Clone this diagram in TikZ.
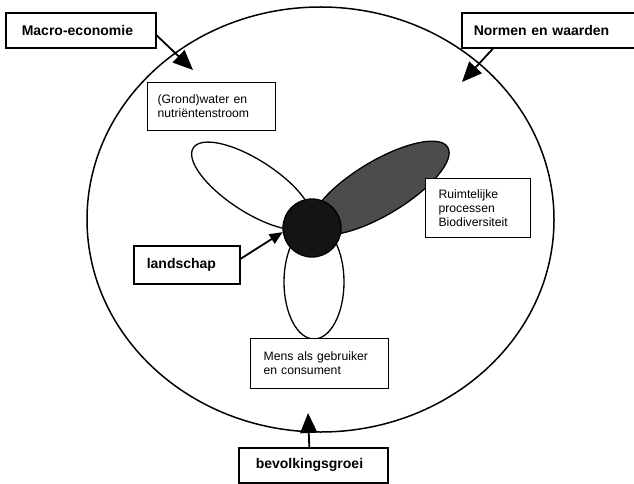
\documentclass[tikz,border=0pt]{standalone}
\usepackage{fontspec}
\setmainfont{Liberation Sans}
\usetikzlibrary{arrows.meta}

\tikzset{
  kader/.style={draw, fill=white, anchor=north west, align=left, inner ysep=0pt,
    execute at begin node={\hyphenpenalty=10000\exhyphenpenalty=10000}},
  vet/.style={kader, line width=1.6pt, font=\bfseries\fontsize{14}{16}\selectfont},
  gewoon/.style={kader, line width=1.2pt, font=\fontsize{12.2}{14}\selectfont},
  pijl/.style={line width=1.8pt, -{Triangle[length=20pt, width=17pt]}},
}

\begin{document}
\begin{tikzpicture}[x=1pt, y=-1pt]
  \useasboundingbox (0,0) rectangle (634,484);
  \clip (0,0) rectangle (634,484);

  % Cerchio esterno
  \draw[line width=1.5pt] (320.5,219.5) ellipse [x radius=233.5pt, y radius=212.5pt];

  % Ellissi e nucleo
  \draw[line width=1.3pt, fill=white, rotate around={-33:(252,186)}]
    (252,186) ellipse [x radius=70pt, y radius=26pt];
  \draw[line width=1.3pt, fill=white] (314,282) ellipse [x radius=30pt, y radius=57pt];
  \draw[line width=1.3pt, fill=black!70, rotate around={31:(380,188)}]
    (380,188) ellipse [x radius=79pt, y radius=27pt];
  \node[circle, draw, line width=1.3pt, fill=black!92, minimum size=58pt, inner sep=0pt] (kern) at (312,228) {};

  % Riquadri
  \node[vet, text width=118pt, inner xsep=16pt, minimum height=35pt] (macro) at (5,12) {Macro-economie};
  \node[vet, text width=156pt, inner xsep=12pt, minimum height=35pt] (normen) at (461,12) {Normen en waarden};
  \node[gewoon, text width=108pt, inner xsep=10pt, minimum height=48pt] (water) at (147,82) {(Grond)water en\\nutriëntenstroom};
  \node[gewoon, text width=79pt, inner xsep=13pt, minimum height=59pt] (ruimte) at (425,178) {Ruimtelijke\\processen\\Biodiversiteit};
  \node[vet, text width=80pt, inner xsep=13pt, minimum height=38pt] (landschap) at (133,245) {landschap};
  \node[gewoon, text width=112pt, inner xsep=13pt, minimum height=50pt] (mens) at (250,338) {Mens als gebruiker\\en consument};
  \node[vet, text width=115pt, inner xsep=17pt, minimum height=35pt] (bevolking) at (238,447) {bevolkingsgroei};

  % Frecce
  \coordinate (macropunt) at (193,70);
  \coordinate (normenpunt) at (462,82);
  \coordinate (bevolkingpunt) at (308,413);
  \draw[pijl] ([yshift=-5pt]macro.east) -- (macropunt);
  \draw[pijl] ([xshift=32pt]normen.south west) -- (normenpunt);
  \draw[pijl, -{Triangle[length=13pt, width=11pt]}] ([yshift=6pt]landschap.east) -- (kern.188);
  \draw[pijl] ([xshift=-4pt]bevolking.north) -- (bevolkingpunt);
\end{tikzpicture}
\end{document}
